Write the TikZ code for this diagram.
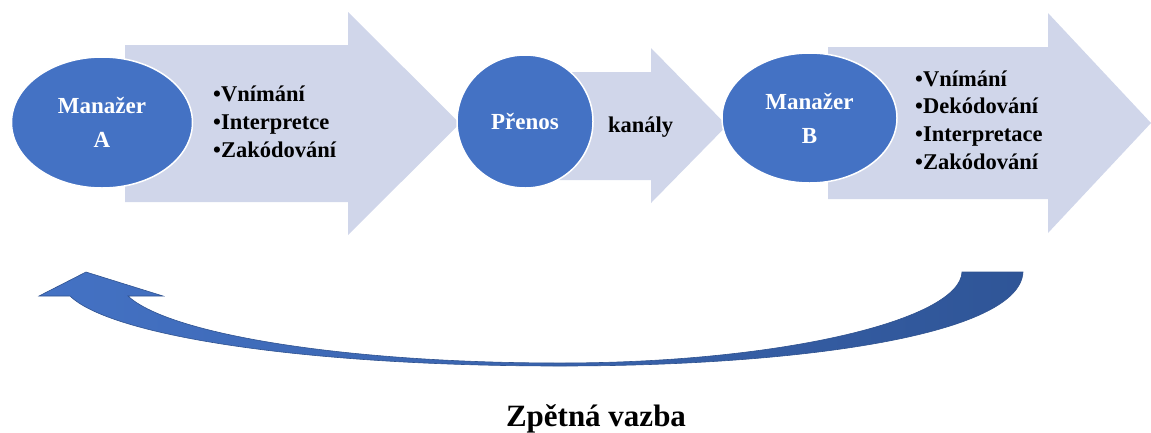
\documentclass[tikz,border=0pt]{standalone}
\usepackage{fontspec}
\setmainfont{Liberation Serif}
\usetikzlibrary{shapes.geometric}

\definecolor{arrowfill}{HTML}{D0D6EA}
\definecolor{bubblefill}{HTML}{4472C4}
\definecolor{backdark}{HTML}{2F5597}
\definecolor{backline}{HTML}{2F528F}

\tikzset{
  bigarrow/.style={fill=arrowfill},
  bubble/.style={ellipse, fill=bubblefill, draw=white, line width=1.5pt, inner sep=0pt,
    text=white, align=center, font=\bfseries\fontsize{23}{34}\selectfont},
  items/.style={anchor=base west, align=left, inner sep=0pt,
    font=\bfseries\fontsize{22.5}{27.6}\selectfont},
}

\begin{document}
\begin{tikzpicture}[x=1pt, y=-1pt]
    \useasboundingbox (0,0) rectangle (1151,432);

    % big arrows behind the bubbles
    \fill[bigarrow] (125,45) -- (348,45) -- (348,12) -- (460,123.5) -- (348,235) -- (348,202) -- (125,202) -- cycle;
    \fill[bigarrow] (525,72) -- (651,72) -- (651,48) -- (727,125.5) -- (651,203) -- (651,180) -- (525,180) -- cycle;
    \fill[bigarrow] (828,47) -- (1048,47) -- (1048,13) -- (1151,123) -- (1048,233) -- (1048,199) -- (828,199) -- cycle;

    % bubbles
    \node[bubble, minimum width=181pt, minimum height=131pt] (manA) at (102,122.5) {Manažer\\A};
    \node[bubble, minimum width=136pt, minimum height=133pt] (prenos) at (525,121.5) {Přenos};
    \node[bubble, minimum width=175pt, minimum height=130pt] (manB) at (809.5,118) {Manažer\\B};

    % texts on the arrows (base = last line)
    \node[items] (listA) at (213,157) {•Vnímání\\•Interpretce\\•Zakódování};
    \node[items] (kanaly) at (608,132) {kanály};
    \node[items] (listB) at (915,169) {•Vnímání\\•Dekódování\\•Interpretace\\•Zakódování};

    % feedback arrow from B back to A
    \shadedraw[left color=bubblefill, right color=backdark, draw=backline, line width=0.6pt]
        (1023,272) .. controls (1020,335) and (800,366) .. (560,366)
        .. controls (300,366) and (110,335) .. (70,296)
        -- (39,296) -- (86,272) -- (163,296) -- (128,296)
        .. controls (170,335) and (350,363) .. (560,363)
        .. controls (780,363) and (960,320) .. (962,272) -- cycle;
    \node[anchor=base, inner sep=0pt, font=\bfseries\fontsize{31}{36}\selectfont] (zpetna) at (596,426) {Zpětná vazba};
\end{tikzpicture}
\end{document}
